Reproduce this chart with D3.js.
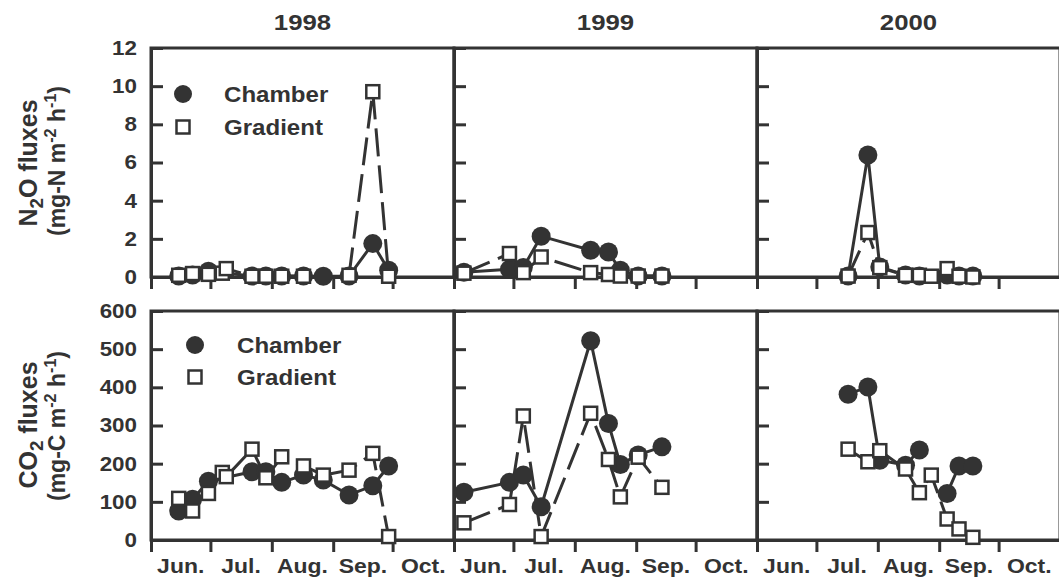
<!DOCTYPE html>
<html>
<head>
<meta charset="utf-8">
<script src="https://cdn.jsdelivr.net/npm/d3@7"></script>
<style>
  body { margin: 0; background: #fff; }
  text { font-family: "Liberation Sans", Arial, sans-serif; font-weight: bold; fill: #333; }
</style>
</head>
<body>
<svg id="chart" width="1059" height="581"></svg>
<script>
// ---- data ----
const years = [1998, 1999, 2000];
const monthLabels = ["Jun.", "Jul.", "Aug.", "Sep.", "Oct."];
const n2oTicks = [0, 2, 4, 6, 8, 10, 12];
const co2Ticks = [0, 100, 200, 300, 400, 500, 600];

// 1998
const chamberDates1998 = ["06-15", "06-22", "06-30", "07-22", "07-29", "08-06", "08-17", "08-27", "09-09", "09-21", "09-29"];
const chamberN2O1998 = [0.05, 0.1, 0.3, 0.05, 0.05, 0.05, 0.05, 0.04, 0.05, 1.75, 0.35];
const chamberCO2_1998 = [76, 107, 154, 179, 179, 151, 170, 157, 118, 142, 194];
const gradientDates1998 = ["06-15", "06-22", "06-30", "07-07", "07-09", "07-22", "07-29", "08-06", "08-17", "08-27", "09-09", "09-21", "09-29"];
const gradientN2O1998 = [0.09, 0.18, 0.14, 0.2, 0.44, 0.04, 0.04, 0.04, 0.04, null, 0.09, 9.71, 0.04];
const gradientCO2_1998 = [109, 76, 122, 177, 166, 238, 163, 218, 194, 170, 183, 227, 9];

// 1999
const dates1999 = ["06-06", "06-29", "07-06", "07-15", "08-09", "08-18", "08-24", "09-02", "09-14"];
const chamberN2O1999 = [0.25, 0.4, 0.5, 2.14, 1.4, 1.31, 0.35, 0.05, 0.05];
const gradientN2O1999 = [0.2, 1.23, 0.23, 1.05, 0.23, 0.13, 0.05, 0.05, 0.05];
const chamberCO2_1999 = [125, 151, 170, 87, 522, 305, 198, 223, 244];
const gradientCO2_1999 = [45, 93, 325, 9, 332, 211, 113, 217, 138];

// 2000
const dates2000 = ["07-17", "07-27", "08-02", "08-15", "08-22", "08-28", "09-05", "09-11", "09-18"];
const chamberN2O2000 = [0.05, 6.39, 0.53, 0.1, 0.05, null, 0.1, 0.05, 0.05];
const gradientN2O2000 = [0.05, 2.33, 0.49, 0.09, 0.09, 0.04, 0.44, 0.04, 0.0];
const chamberCO2_2000 = [382, 401, 209, 196, 236, null, 122, 194, 194];
const gradientCO2_2000 = [238, 205, 234, 186, 124, 170, 55, 29, 7];

const panels = [
  { year: 1998, chDates: chamberDates1998, grDates: gradientDates1998, chN2O: chamberN2O1998, grN2O: gradientN2O1998, chCO2: chamberCO2_1998, grCO2: gradientCO2_1998 },
  { year: 1999, chDates: dates1999, grDates: dates1999, chN2O: chamberN2O1999, grN2O: gradientN2O1999, chCO2: chamberCO2_1999, grCO2: gradientCO2_1999 },
  { year: 2000, chDates: dates2000, grDates: dates2000, chN2O: chamberN2O2000, grN2O: gradientN2O2000, chCO2: chamberCO2_2000, grCO2: gradientCO2_2000 }
];

// ---- layout ----
const svg = d3.select("#chart");
const ink = "#333";
const stretch = 1.12; // the figure's lettering is a bit wide
const left = 151, panelW = 303;
const yTop = d3.scaleLinear().domain([0, 12]).range([277, 48]);
const yBot = d3.scaleLinear().domain([0, 600]).range([540, 311]);
const parse = d3.timeParse("%Y-%m-%d");

function series(year, dates, vals) {
  return dates.map((d, i) => ({ date: parse(year + "-" + d), v: vals[i] }));
}

// horizontal text, stretched sideways
function label(x, y, str, size, anchor) {
  return svg.append("text")
    .attr("transform", `translate(${x},${y}) scale(${stretch},1)`)
    .attr("text-anchor", anchor || "start")
    .style("font-size", size + "px").text(str);
}

panels.forEach((p, i) => {
  const x0 = left + panelW * i;
  const start = new Date(p.year, 5, 1), end = new Date(p.year, 10, 1);
  const x = d3.scaleTime().domain([start, end]).range([x0, x0 + panelW]);
  const months = d3.timeMonth.range(start, d3.timeDay.offset(end, 1));

  // year title
  label(x0 + panelW / 2, 30, p.year, 23, "middle");

  [[yTop, p.chN2O, p.grN2O, n2oTicks], [yBot, p.chCO2, p.grCO2, co2Ticks]].forEach(([y, chVals, grVals, ticks], row) => {
    const g = svg.append("g");

    // frame
    g.append("rect").attr("x", x0).attr("y", y.range()[1])
      .attr("width", panelW).attr("height", y.range()[0] - y.range()[1])
      .attr("fill", "none").attr("stroke", ink).attr("stroke-width", 3);

    // x ticks (downward)
    const xa = g.append("g").attr("transform", `translate(0,${y.range()[0]})`)
      .call(d3.axisBottom(x).tickValues(months).tickSize(12).tickSizeOuter(0).tickFormat(""));
    xa.selectAll("path, line").attr("stroke", ink).attr("stroke-width", 3);

    // y ticks (inward)
    const ya = g.append("g").attr("transform", `translate(${x0},0)`)
      .call(d3.axisRight(y).tickValues(ticks).tickSize(12).tickSizeOuter(0).tickFormat(""));
    ya.selectAll("path, line").attr("stroke", ink).attr("stroke-width", 3);

    if (i === 0) {
      const yl = g.append("g").attr("transform", `translate(${x0},0)`)
        .call(d3.axisLeft(y).tickValues(ticks).tickSize(0).tickPadding(12.5));
      yl.select(".domain").remove();
      yl.selectAll("text").attr("fill", ink).attr("transform", `scale(${stretch},1)`)
        .style("font-size", "20px")
        .style("font-family", "'Liberation Sans', Arial, sans-serif").style("font-weight", "bold");
    }

    if (row === 1) {
      monthLabels.forEach((m, k) => {
        label((x(months[k]) + x(months[k + 1])) / 2, 573, m, 20.5, "middle");
      });
    }

    const ch = series(p.year, p.chDates, chVals);
    const gr = series(p.year, p.grDates, grVals);
    const line = d3.line().defined(d => d.v != null).x(d => x(d.date)).y(d => y(d.v));

    g.append("path").datum(gr).attr("d", line).attr("fill", "none")
      .attr("stroke", ink).attr("stroke-width", 3).attr("stroke-dasharray", "28,9");
    g.append("path").datum(ch).attr("d", line).attr("fill", "none")
      .attr("stroke", ink).attr("stroke-width", 3);

    g.selectAll(".ch").data(ch.filter(d => d.v != null)).enter().append("circle")
      .attr("cx", d => x(d.date)).attr("cy", d => y(d.v)).attr("r", 9.5).attr("fill", ink);
    g.selectAll(".gr").data(gr.filter(d => d.v != null)).enter().append("rect")
      .attr("x", d => x(d.date) - 6.5).attr("y", d => y(d.v) - 6.5)
      .attr("width", 13).attr("height", 13)
      .attr("fill", "#fff").attr("stroke", ink).attr("stroke-width", 2.5);
  });
});

// legends
function legend(cx, cy1, cy2, tx) {
  svg.append("circle").attr("cx", cx).attr("cy", cy1).attr("r", 9).attr("fill", ink);
  label(tx, cy1, "Chamber", 21.5).attr("dy", "0.36em");
  svg.append("rect").attr("x", cx - 6.5).attr("y", cy2 - 6.5).attr("width", 13).attr("height", 13)
    .attr("fill", "#fff").attr("stroke", ink).attr("stroke-width", 2.5);
  label(tx, cy2, "Gradient", 21.5).attr("dy", "0.36em");
}
legend(183, 94, 127, 224);
legend(195, 345, 377, 237);

// y-axis titles
function yTitle(x, cy, parts, size) {
  const t = svg.append("text").attr("transform", `translate(${x},${cy}) rotate(-90)`)
    .attr("text-anchor", "middle").attr("dy", "0.36em").style("font-size", size + "px");
  parts.forEach(([s, kind]) => {
    const sp = t.append("tspan").text(s);
    if (kind === "sub") sp.attr("dy", 6).style("font-size", (size * 0.75) + "px");
    if (kind === "sup") sp.attr("dy", -9).style("font-size", (size * 0.7) + "px");
    if (kind === "afterSub") sp.attr("dy", -6);
    if (kind === "afterSup") sp.attr("dy", 9);
  });
}
yTitle(28, 163, [["N"], ["2", "sub"], ["O fluxes", "afterSub"]], 25);
yTitle(57, 161, [["(mg-N m"], ["-2", "sup"], [" h", "afterSup"], ["-1", "sup"], [")", "afterSup"]], 23);
yTitle(28, 425, [["CO"], ["2", "sub"], [" fluxes", "afterSub"]], 25);
yTitle(57, 426, [["(mg-C m"], ["-2", "sup"], [" h", "afterSup"], ["-1", "sup"], [")", "afterSup"]], 23);
</script>
</body>
</html>
